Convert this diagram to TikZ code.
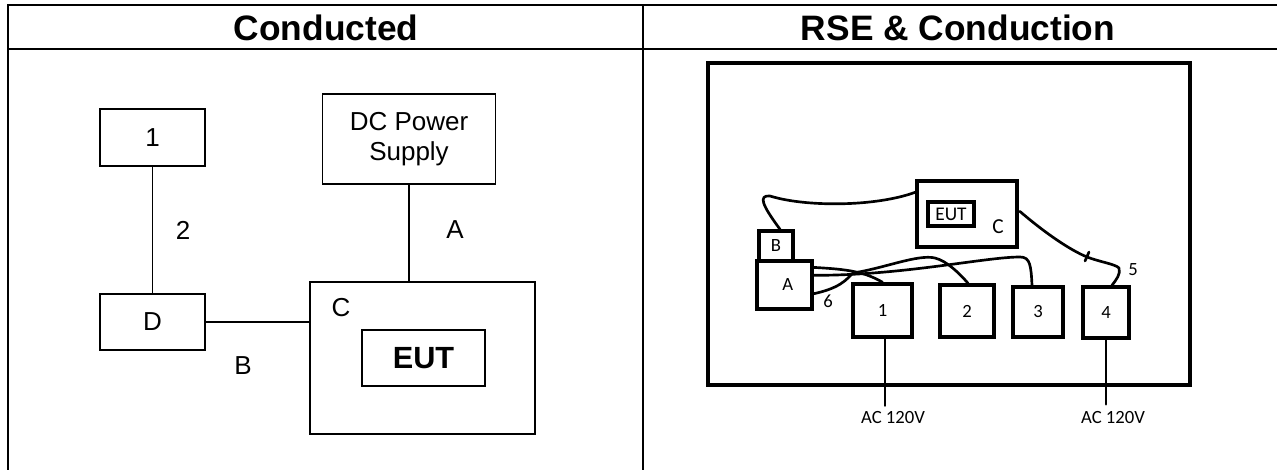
\documentclass[tikz,border=0pt]{standalone}
\usepackage{fontspec}
\setmainfont{Liberation Sans}
\newfontfamily\sketchfont{Carlito}
\usetikzlibrary{positioning,calc}
\newdimen\pxu \pxu=0.75pt
\tikzset{
  tablerule/.style={line width=1.6pt},
  titletext/.style={inner sep=0pt,font=\bfseries\fontsize{26.5}{30}\selectfont},
  unitbox/.style={draw,line width=1.3pt,inner sep=0pt,align=center,
                  font=\fontsize{19.5}{22.5}\selectfont},
  plainlabel/.style={inner sep=0pt,font=\fontsize{19.5}{22.5}\selectfont},
  wire/.style={line width=1pt},
  sketchbox/.style={draw,line width=2.6pt,inner sep=0pt,
                    font=\sketchfont\fontsize{14}{16}\selectfont},
  sketchlabel/.style={inner sep=0pt,font=\sketchfont\fontsize{14}{16}\selectfont},
  cable/.style={line width=2pt,line cap=round,line join=round}
}
\begin{document}
\begin{tikzpicture}[x=0.75pt,y=-0.75pt]
  \useasboundingbox (0,0) rectangle (1277,470);
  % table frame
  \draw[tablerule] (8,5) -- (1277,5);
  \draw[tablerule] (8,49) -- (1277,49);
  \draw[tablerule] (8,4.2) -- (8,470);
  \draw[tablerule] (643,4.2) -- (643,470);
  \node[titletext,anchor=base] (titleleft) at (326,41) {Conducted};
  \node[titletext,anchor=base] (titleright) at (958,41) {RSE \& Conduction};

  % conducted set-up
  \node[unitbox,minimum width=105\pxu,minimum height=57\pxu] (one) at (152.5,137.5) {1};
  \node[unitbox,minimum width=173\pxu,minimum height=90\pxu] (dcps) at (409,139) {DC Power\\Supply};
  \node[unitbox,minimum width=105\pxu,minimum height=56\pxu] (dbox) at (152.5,322) {D};
  \node[unitbox,minimum width=225\pxu,minimum height=152\pxu] (cbox) at (422.5,358) {};
  \node[unitbox,minimum width=123\pxu,minimum height=56\pxu,
        font=\bfseries\fontsize{23}{26}\selectfont] (eut) at (423.5,358) {EUT};
  \node[plainlabel] (clabel) at (341,308) {C};
  \node[plainlabel] (lbltwo) at (183,230) {2};
  \node[plainlabel] (lbla) at (455,230) {A};
  \node[plainlabel] (lblb) at (243,366) {B};
  \draw[wire] (one) -- (dbox);
  \draw[wire] (dcps) -- (dcps |- cbox.north);
  \draw[wire] (dbox.east) -- (dbox.east -| cbox.west);

  % rse and conduction sketch
  \node[sketchbox,line width=2.4pt,minimum width=482\pxu,minimum height=322\pxu] (room) at (949,224) {};
  \node[sketchbox,minimum width=100\pxu,minimum height=66\pxu] (rc) at (967,214) {};
  \node[sketchbox,minimum width=46\pxu,minimum height=24\pxu,
        font=\sketchfont\fontsize{14.5}{16}\selectfont] (reut) at (951,214) {EUT};
  \node[sketchlabel,font=\sketchfont\fontsize{16}{18}\selectfont] (rclabel) at (998,227) {C};
  \node[sketchbox,minimum width=34\pxu,minimum height=30\pxu] (rb) at (776,246) {B};
  \node[sketchbox,minimum width=55\pxu,minimum height=48\pxu] (ra) at (784.5,285) {\raisebox{-3.5pt}{\hspace*{5pt}A}};
  \node[sketchbox,minimum width=59\pxu,minimum height=53\pxu] (r1) at (882.5,310.5) {1};
  \node[sketchbox,minimum width=54\pxu,minimum height=52\pxu] (r2) at (967,311) {2};
  \node[sketchbox,minimum width=50\pxu,minimum height=50\pxu] (r3) at (1038,312) {3};
  \node[sketchbox,minimum width=46\pxu,minimum height=51\pxu] (r4) at (1106,312.5) {4};
  \node[sketchlabel] (six) at (828,301) {6};
  \node[sketchlabel] (five) at (1133,270) {5};
  \node[sketchlabel] (acone) at (893,418) {AC 120V};
  \node[sketchlabel] (acfour) at (1113,418) {AC 120V};

  % cables
  \draw[cable] ($(rb.north)+(4,0)$) .. controls (762,205) and (758,195) .. (770,196)
        .. controls (805,207) and (875,207) .. ($(rc.north west)+(0,13)$);
  \draw[cable] ($(ra.north east)+(-2,8)$) .. controls (840,269) and (862,270) .. (r1.north);
  \draw[cable] ($(ra.north east)+(-2,16)$) .. controls (900,276) and (985,257) .. (1020,257)
        .. controls (1030,257) and (1031,265) .. ($(r3.north)+(-6,0)$);
  \draw[cable] ($(ra.south east)+(0,-17)$) .. controls (840,288) and (846,280) .. (853,273)
        .. controls (885,268) and (918,254) .. (935,258)
        .. controls (947,261) and (960,274) .. ($(r2.north)+(1,0)$);
  \draw[cable] ($(rc.north east)+(1,32)$) .. controls (1045,233) and (1070,250) .. (1087,257)
        .. controls (1100,262) and (1115,264) .. (1119,268)
        .. controls (1121,274) and (1116,280) .. ($(r4.north)+(6,0)$);
  \draw[cable] (1085,261) -- (1089,252);
  \draw[cable,shorten >=4.5pt] ($(r1.south)+(2.5,0)$) -- ($(r1.south |- acone.north)+(2.5,0)$);
  \draw[cable,shorten >=5.5pt] (r4.south) -- (r4.south |- acfour.north);
\end{tikzpicture}
\end{document}
